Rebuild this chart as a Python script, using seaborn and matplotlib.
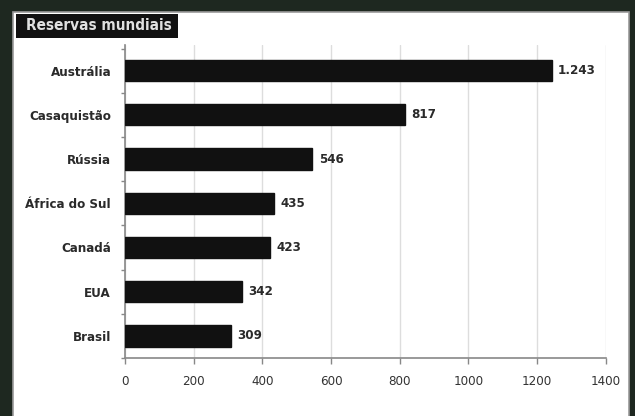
import matplotlib
matplotlib.use("Agg")
import matplotlib.pyplot as plt
import seaborn as sns
import pandas as pd
from matplotlib.patches import Rectangle

countries = ["Austrália", "Casaquistão", "Rússia", "África do Sul", "Canadá", "EUA", "Brasil"]
reserves = [1243, 817, 546, 435, 423, 342, 309]
value_labels = ["1.243", "817", "546", "435", "423", "342", "309"]
xticks = [0, 200, 400, 600, 800, 1000, 1200, 1400]

df = pd.DataFrame({"country": countries, "reserves": reserves})

sns.set_style("white")
plt.rcParams["font.family"] = ["DejaVu Sans"]
plt.rcParams["font.stretch"] = "condensed"

fig = plt.figure(figsize=(6.35, 4.16), dpi=100)
fig.patch.set_facecolor("#1e2820")

# white panel
fig.patches.append(Rectangle((13 / 635, -0.01), 616 / 635, (404 / 416) + 0.01,
                             transform=fig.transFigure, facecolor="white",
                             edgecolor="#9a9a9a", linewidth=1.2, zorder=-2))
# title box
fig.patches.append(Rectangle((16 / 635, 1 - 38 / 416), 162 / 635, 24 / 416,
                             transform=fig.transFigure, facecolor="#111111",
                             edgecolor="none", zorder=-1))
fig.text(26 / 635, 1 - 26 / 416, "Reservas mundiais", color="#e0e0e0",
         fontsize=11, fontweight="semibold", va="center", ha="left")

ax = fig.add_axes([125 / 635, 58 / 416, 481 / 635, 313 / 416])
ax.set_facecolor("none")
ax.set_zorder(2)

sns.barplot(data=df, x="reserves", y="country", color="#111111", width=0.48,
            edgecolor="#111111", saturation=1, ax=ax, zorder=3)

for i, (v, lab) in enumerate(zip(reserves, value_labels)):
    ax.text(v + 18, i, lab, va="center", ha="left", fontsize=9.5,
            fontweight="bold", color="#2a2a2a")

ax.set_xlim(0, 1401)
ax.set_ylim(6.5, -0.58)
ax.set_xticks(xticks)
ax.set_xticklabels([str(t) for t in xticks], fontsize=9.5, color="#333333")
ax.set_yticks(range(len(countries)))
ax.set_yticklabels(countries, fontsize=9.5, fontweight="bold", color="#2a2a2a")
ax.set_yticks([i - 0.5 for i in range(len(countries) + 1)], minor=True)
ax.tick_params(axis="y", which="major", left=True, length=0, pad=10)
ax.tick_params(axis="y", which="minor", left=True, length=3, color="#888888", width=1)
ax.tick_params(axis="x", bottom=True, length=4, color="#888888", width=1, pad=8)
ax.xaxis.grid(True, color="#dddddd", linewidth=1, zorder=0)
ax.set_axisbelow(True)
ax.set_xlabel("")
ax.set_ylabel("")
for s in ["top", "right"]:
    ax.spines[s].set_visible(False)
for s in ["left", "bottom"]:
    ax.spines[s].set_color("#888888")
    ax.spines[s].set_linewidth(1.2)

fig.savefig("out.png", dpi=100, facecolor=fig.get_facecolor())
